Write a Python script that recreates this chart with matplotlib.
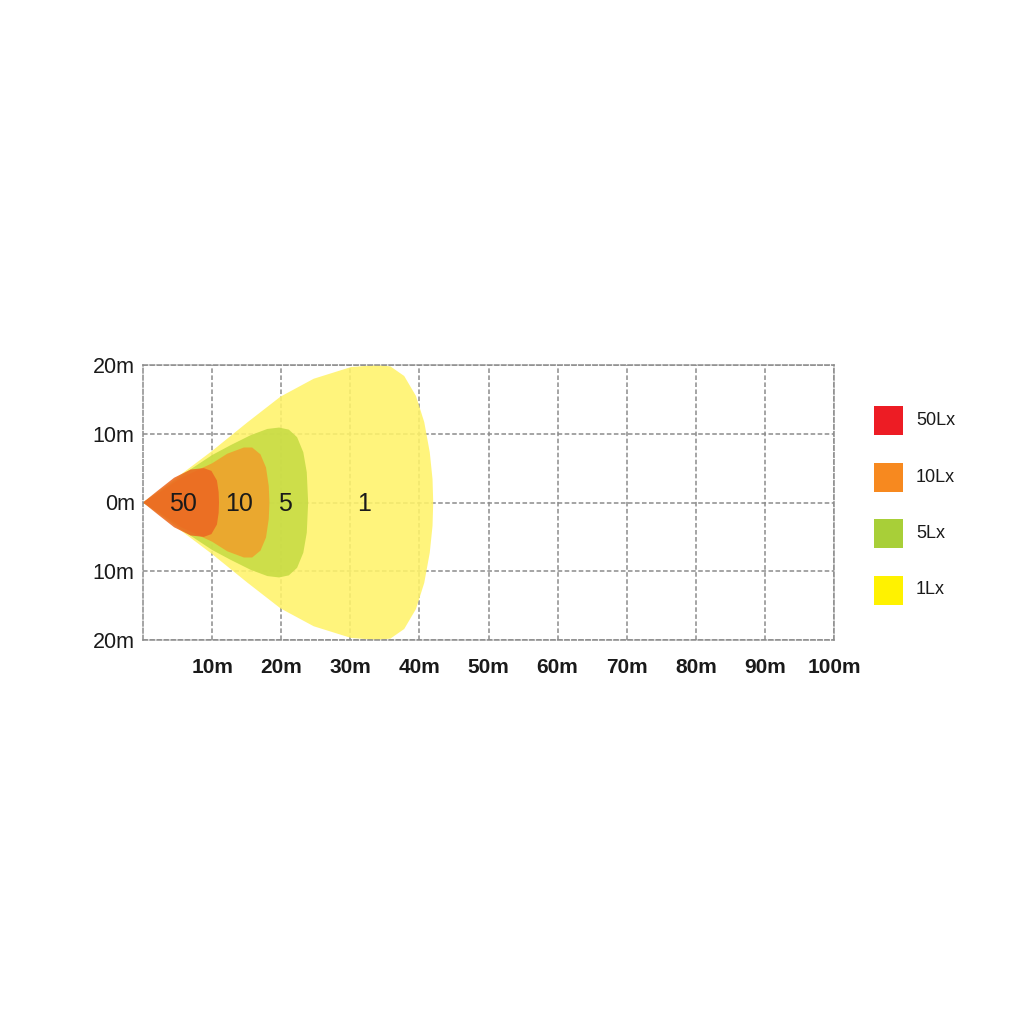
import matplotlib
matplotlib.use("Agg")
import matplotlib.pyplot as plt
import numpy as np
from matplotlib.patches import Rectangle

plt.rcParams["font.family"] = ["Liberation Sans", "DejaVu Sans"]

# ── Data: upper half of each iso-lux contour (metres), mirrored below ──────
lux_1_x = [0, 3.0, 10.0, 15.1, 19.9, 24.7, 30.1, 33.9, 35.8, 37.8, 39.5, 40.7, 41.5, 41.9, 42.0]
lux_1_y = [0, 2.2, 7.5, 11.65, 15.4, 18.0, 19.7, 20.0, 19.8, 18.4, 15.5, 11.7, 7.3, 3.4, 0]

lux_5_x = [0, 3.0, 5.5, 10.0, 12.7, 15.6, 18.0, 19.7, 21.1, 22.3, 23.2, 23.7, 23.9]
lux_5_y = [0, 2.1, 3.9, 6.9, 8.35, 9.8, 10.7, 10.9, 10.6, 9.5, 7.3, 4.4, 0]

lux_10_x = [0, 3.0, 5.5, 10.0, 12.2, 14.6, 15.8, 17.0, 17.8, 18.2, 18.3]
lux_10_y = [0, 1.9, 3.6, 5.7, 7.1, 8.0, 8.0, 7.0, 5.1, 2.4, 0]

lux_50_x = [0, 2.1, 4.5, 6.9, 8.8, 9.9, 10.7, 10.95, 11.0]
lux_50_y = [0, 1.7, 3.6, 4.8, 5.0, 4.6, 3.2, 1.5, 0]

zone_labels = ["50", "10", "5", "1"]
zone_label_x = [5.8, 13.9, 20.5, 32.0]

legend_labels = ["50Lx", "10Lx", "5Lx", "1Lx"]
legend_colors = ["#ED1C24", "#F7891F", "#A8CF38", "#FFF200"]

x_ticks = [10, 20, 30, 40, 50, 60, 70, 80, 90, 100]
x_tick_labels = ["10m", "20m", "30m", "40m", "50m", "60m", "70m", "80m", "90m", "100m"]
y_ticks = [-20, -10, 0, 10, 20]
y_tick_labels = ["20m", "10m", "0m", "10m", "20m"]

# fill colours as they appear on the chart
FILL = {"1": "#FFF36A", "5": "#C6DB44", "10": "#EFA12C", "50": "#EC6822"}
GRID = "#8C8C8C"

fig = plt.figure(figsize=(10.24, 10.24), dpi=100)
ax = fig.add_axes([143 / 1024, 1 - 640 / 1024, 691 / 1024, 275 / 1024])
ax.set_xlim(0, 100)
ax.set_ylim(-20, 20)


def draw_zone(xs, ys, color):
    xs = np.asarray(xs, float)
    ys = np.asarray(ys, float)
    px = np.concatenate([xs, xs[::-1]])
    py = np.concatenate([ys, -ys[::-1]])
    ax.fill(px, py, color=color, alpha=0.88, lw=0, zorder=2)


draw_zone(lux_1_x, lux_1_y, FILL["1"])
draw_zone(lux_5_x, lux_5_y, FILL["5"])
draw_zone(lux_10_x, lux_10_y, FILL["10"])
draw_zone(lux_50_x, lux_50_y, FILL["50"])

for lab, lx in zip(zone_labels, zone_label_x):
    ax.text(lx, -0.2, lab, ha="center", va="center", fontsize=18, color="#1a1a1a", zorder=4)

# dashed grid + frame
dash = (0, (3, 1.6))
ax.set_xticks(x_ticks)
ax.set_yticks(y_ticks)
ax.grid(True, color=GRID, lw=1.1, linestyle=dash, zorder=1)
ax.set_axisbelow(True)
for sp in ax.spines.values():
    sp.set_color(GRID)
    sp.set_linewidth(1.1)
    sp.set_linestyle(dash)
ax.tick_params(length=0)
ax.set_xticklabels(x_tick_labels, fontsize=15, fontweight="bold", color="#1a1a1a")
ax.set_yticklabels(y_tick_labels, fontsize=15.5, color="#1a1a1a")
ax.tick_params(axis="x", pad=13)
ax.tick_params(axis="y", pad=6)

# legend squares at the right
for i, (lab, col) in enumerate(zip(legend_labels, legend_colors)):
    yc = 1 - (420.5 + i * 56.5) / 1024
    fig.add_artist(Rectangle((874 / 1024, yc - 14.5 / 1024), 29 / 1024, 29 / 1024,
                             transform=fig.transFigure, color=col, lw=0))
    fig.text(916 / 1024, yc, lab, fontsize=13, va="center", ha="left", color="#1a1a1a")

fig.savefig("out.png", dpi=100)
